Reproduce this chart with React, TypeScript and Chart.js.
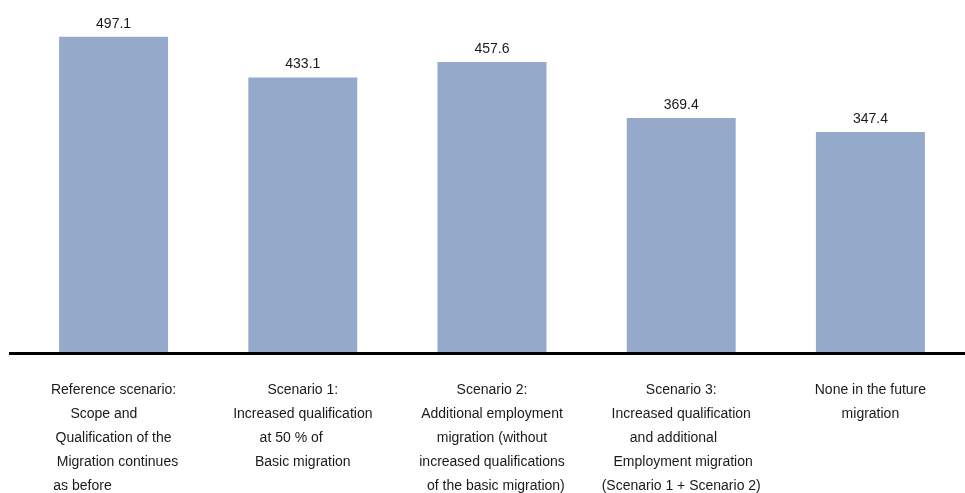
import React, { useEffect, useRef } from "react";
import { Chart, registerables } from "chart.js";

Chart.register(...registerables);

const categories: string[][] = [
  ["Reference scenario:", "Scope and     ", "Qualification of the", "  Migration continues", "as before                "],
  ["Scenario 1:", "Increased qualification", "at 50 % of      ", "Basic migration"],
  ["Scenario 2:", "Additional employment", "migration (without", "increased qualifications", "  of the basic migration)"],
  ["Scenario 3:", "Increased qualification", "and additional    ", " Employment migration", "(Scenario 1 + Scenario 2)"],
  ["None in the future", "migration"],
];
const values: number[] = [497.1, 433.1, 457.6, 369.4, 347.4];
const valueLabels: string[] = ["497.1", "433.1", "457.6", "369.4", "347.4"];

const FONT = "'Liberation Sans', Arial, sans-serif";

const overlay = {
  id: "overlay",
  afterDatasetsDraw(chart: any) {
    const ctx = chart.ctx;
    const y0 = chart.scales.y.getPixelForValue(0);
    ctx.save();
    ctx.strokeStyle = "#000";
    ctx.lineWidth = 3;
    ctx.beginPath();
    ctx.moveTo(9, y0 + 0.5);
    ctx.lineTo(chart.width, y0 + 0.5);
    ctx.stroke();
    const meta = chart.getDatasetMeta(0);
    ctx.fillStyle = "#1a1a1a";
    ctx.font = `14px ${FONT}`;
    ctx.textAlign = "center";
    ctx.textBaseline = "middle";
    meta.data.forEach((bar: any, i: number) => {
      ctx.fillText(valueLabels[i], bar.x, bar.y - 13);
    });
    ctx.restore();
  },
};

export default function App() {
  const ref = useRef<HTMLCanvasElement | null>(null);
  useEffect(() => {
    if (!ref.current) return;
    const chart = new Chart(ref.current, {
      type: "bar",
      data: {
        labels: categories,
        datasets: [
          {
            data: values,
            backgroundColor: "#95a9cb",
            borderWidth: 0,
            categoryPercentage: 1,
            barPercentage: 0.576,
          },
        ],
      },
      options: {
        responsive: false,
        animation: false,
        layout: { padding: { left: 19, right: -3, top: 35, bottom: -30 } },
        plugins: { legend: { display: false }, tooltip: { enabled: false } },
        scales: {
          x: {
            grid: { display: false, drawTicks: false },
            border: { display: false },
            ticks: {
              padding: 25,
              maxRotation: 0,
              autoSkip: false,
              color: "#1a1a1a",
              font: { family: FONT, size: 14, lineHeight: "24px" as any },
            },
          },
          y: {
            display: false,
            min: 0,
            max: 500,
          },
        },
      },
      plugins: [overlay],
    });
    return () => chart.destroy();
  }, []);
  return (
    <div style={{ position: "absolute", left: 0, top: 0, width: 965, height: 493, background: "#fff" }}>
      <canvas ref={ref} width={965} height={493} style={{ width: 965, height: 493, display: "block" }} />
    </div>
  );
}
